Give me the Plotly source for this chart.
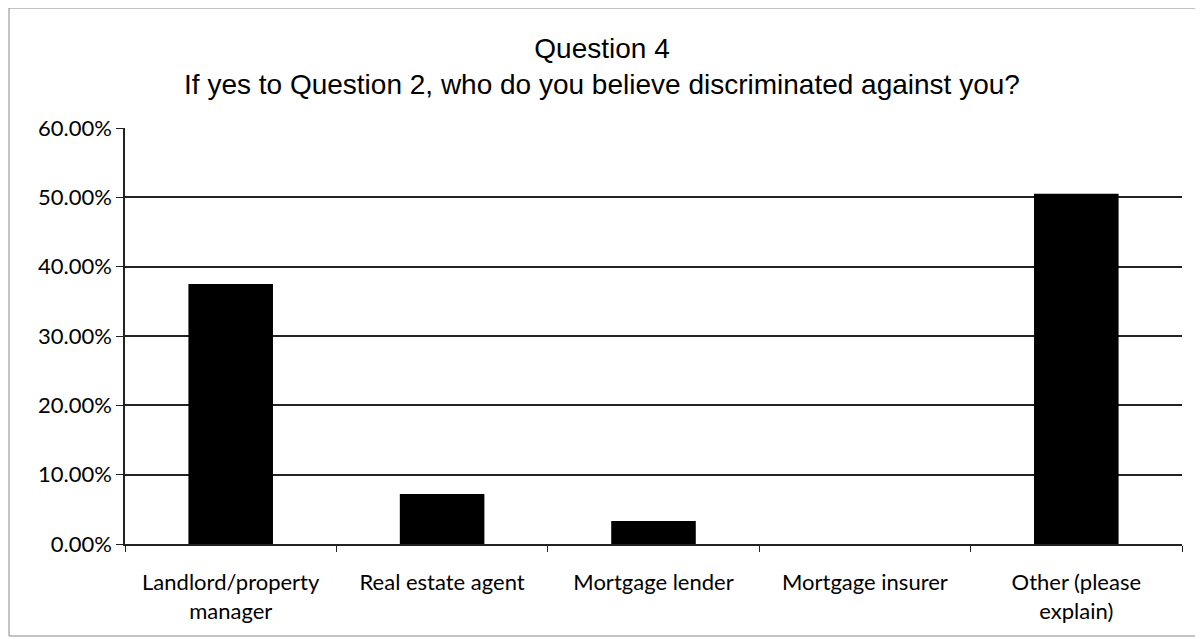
import plotly.graph_objects as go

categories = ["Landlord/property<br>manager", "Real estate agent", "Mortgage lender",
              "Mortgage insurer", "Other (please<br>explain)"]
values = [0.375, 0.072, 0.033, 0.0, 0.505]
title_lines = ["Question 4", "If yes to Question 2, who do you believe discriminated against you?"]

fig = go.Figure(go.Bar(x=categories, y=values, marker=dict(color="black", line=dict(width=0)),
                       width=0.4))

# page body adds an 8px offset; figure sized to fill the rest of the window
W, H = 1195, 631
L, R, T, B = 117, 21, 120, 95
pw, ph = W - L - R, H - T - B

fig.update_layout(
    width=W, height=H,
    margin=dict(l=L, r=R, t=T, b=B),
    paper_bgcolor="white", plot_bgcolor="white",
    showlegend=False,
    title=dict(text="<br>".join(title_lines), x=(602 - 8) / W, xanchor="center",
               y=1 - 50 / H, yanchor="top",
               font=dict(family="Liberation Sans, Arial", size=28, color="black")),
    font=dict(family="Lato, sans-serif", size=21, color="black"),
)
fig.update_yaxes(range=[0, 0.6], tickvals=[0, 0.1, 0.2, 0.3, 0.4, 0.5, 0.6], tickformat=".2%",
                 showgrid=True, gridcolor="#222222", gridwidth=1.5,
                 showline=True, linecolor="#222222", linewidth=1.5,
                 ticks="outside", ticklen=7, tickcolor="#222222", zeroline=False,
                 tickfont=dict(size=22, family="Lato, sans-serif"))
fig.update_xaxes(showline=True, linecolor="#222222", linewidth=1.5,
                 ticks="outside", ticklen=6, tickcolor="#222222", tickson="boundaries",
                 ticklabelstandoff=18,
                 showgrid=False, tickfont=dict(size=22, family="Lato, sans-serif"))

# outer border of the chart area
fig.add_shape(type="rect", xref="paper", yref="paper",
              x0=(1 - L) / pw, x1=(1193 - L) / pw,
              y0=(H - B - 628) / ph, y1=(H - B - 0) / ph,
              line=dict(color="#888888", width=1))

fig.write_html("out.html")
